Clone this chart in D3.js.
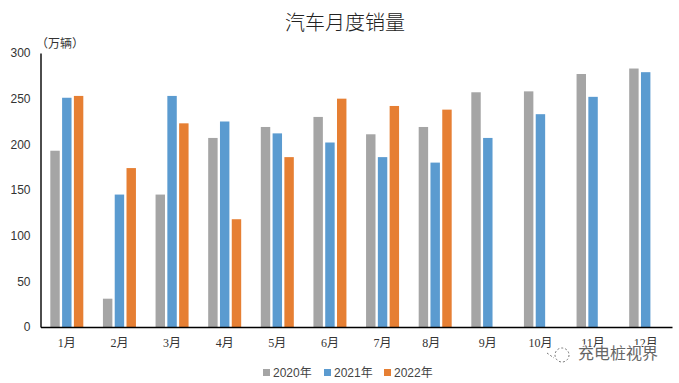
<!DOCTYPE html>
<html>
<head>
<meta charset="utf-8">
<script src="https://cdn.jsdelivr.net/npm/d3@7"></script>
<style>
  html, body { margin: 0; padding: 0; background: #fff; }
  text { font-family: "Liberation Sans", "Noto Sans CJK SC", sans-serif; }
</style>
</head>
<body>
<svg id="chart"></svg>
<script>
// Chart data
const months = ["1月", "2月", "3月", "4月", "5月", "6月", "7月", "8月", "9月", "10月", "11月", "12月"];
const years = ["2020年", "2021年", "2022年"];
const sales2020 = [193, 31, 145, 207, 219, 230, 211, 219, 257, 258, 277, 283];
const sales2021 = [251, 145, 253, 225, 212, 202, 186, 180, 207, 233, 252, 279];
const sales2022 = [253, 174, 223, 118, 186, 250, 242, 238];
const yTicks = [0, 50, 100, 150, 200, 250, 300];
const colors = ["#a5a5a5", "#5b9bd0", "#e67f33"];

const width = 679;
const height = 383;
const margin = { top: 53, right: 7, bottom: 56, left: 40.5 };
const innerWidth = width - margin.left - margin.right;
const innerHeight = height - margin.top - margin.bottom;

const svg = d3.select("#chart")
  .attr("width", width)
  .attr("height", height)
  .style("display", "block");

const g = svg.append("g")
  .attr("transform", `translate(${margin.left},${margin.top})`);

const xScale = d3.scaleBand()
  .domain(months)
  .range([0, innerWidth]);

// The slot of each year inside a month
const xInner = d3.scaleBand()
  .domain(years)
  .range([xScale.bandwidth() / 2 - 16.5, xScale.bandwidth() / 2 + 16.5])
  .paddingInner(0.2);

const yScale = d3.scaleLinear()
  .domain([0, 300])
  .range([innerHeight, 0]);

// Draw bars
[sales2020, sales2021, sales2022].forEach((values, i) => {
  g.selectAll(".bar" + i)
    .data(values)
    .enter()
    .append("rect")
    .attr("class", "bar" + i)
    .attr("x", (d, m) => xScale(months[m]) + xInner(years[i]))
    .attr("y", d => yScale(d))
    .attr("width", xInner.bandwidth())
    .attr("height", d => innerHeight - yScale(d))
    .attr("fill", colors[i]);
});

// Draw axes
const xAxis = g.append("g")
  .attr("transform", `translate(0, ${innerHeight})`)
  .call(d3.axisBottom(xScale).tickSize(0).tickPadding(11));
xAxis.select(".domain").attr("stroke", "#000").attr("stroke-width", 1.6);
xAxis.selectAll("text")
  .attr("font-size", "12px")
  .attr("fill", "#333")
  .style("font-family", '"Liberation Serif", "Noto Sans CJK SC", serif');
// the 8月 label sits a little left of its bars in the original
xAxis.selectAll("text").filter(d => d === "8月").attr("dx", -4);

const yAxis = g.append("g")
  .call(d3.axisLeft(yScale).tickValues(yTicks).tickSize(0).tickPadding(10));
yAxis.select(".domain").attr("stroke", "#000").attr("stroke-width", 1.4);
yAxis.selectAll("text")
  .attr("font-size", "12px")
  .attr("fill", "#333");

// Title and unit
svg.append("text")
  .attr("x", 345)
  .attr("y", 30)
  .attr("text-anchor", "middle")
  .attr("font-size", "20px")
  .attr("font-weight", 300)
  .attr("fill", "#222")
  .text("汽车月度销量");

svg.append("text")
  .attr("x", 36)
  .attr("y", 48)
  .attr("font-size", "12px")
  .attr("fill", "#333")
  .text("（万辆）");

// Legend
const legendX = d3.scaleOrdinal().domain(years).range([263, 324, 384]);
const legend = svg.selectAll(".legend")
  .data(years)
  .enter()
  .append("g")
  .attr("class", "legend")
  .attr("transform", d => `translate(${legendX(d)}, 369)`);

legend.append("rect")
  .attr("width", 7)
  .attr("height", 7)
  .attr("fill", (d, i) => colors[i]);

legend.append("text")
  .attr("x", 10)
  .attr("y", 8)
  .attr("font-size", "12px")
  .attr("fill", "#444")
  .text(d => d);

// Watermark
const mark = svg.append("g").attr("fill", "none").attr("stroke", "#555")
  .attr("stroke-width", 0.8).attr("stroke-dasharray", "2 2");
mark.append("circle").attr("cx", 562).attr("cy", 355).attr("r", 7);
mark.append("path").attr("d", "M547,353 L554,358");

svg.append("text")
  .attr("x", 578)
  .attr("y", 359)
  .attr("font-size", "16px")
  .attr("fill", "#666")
  .attr("stroke", "#fff")
  .attr("stroke-width", 2)
  .attr("paint-order", "stroke")
  .text("充电桩视界");
</script>
</body>
</html>
